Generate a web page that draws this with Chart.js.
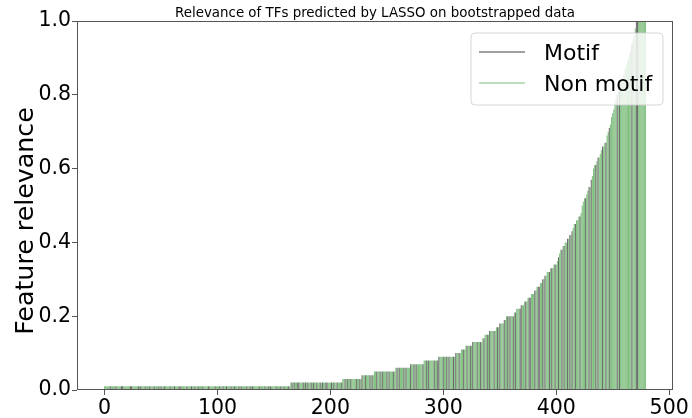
<!DOCTYPE html>
<html><head><meta charset="utf-8">
<script src="https://cdn.jsdelivr.net/npm/chart.js@4.4.1/dist/chart.umd.min.js"></script>
<style>html,body{margin:0;padding:0;background:#fff;}#wrap{width:692px;height:418px;position:relative;}</style>
</head><body><div id="wrap"><canvas id="c" width="692" height="418"></canvas></div>
<script>
// ---- data ----
const titleText = 'Relevance of TFs predicted by LASSO on bootstrapped data';
const yTitle = 'Feature relevance';
const seriesNames = ['Motif', 'Non motif'];
const xTicks = [0, 100, 200, 300, 400, 500];
const yTicks = [0.0, 0.2, 0.4, 0.6, 0.8, 1.0];

// sorted relevance values, run-length encoded (value, number of consecutive bars)
const relevanceLevels = [
  0.01, 0.02, 0.03, 0.04, 0.05, 0.06, 0.07, 0.08, 0.09, 0.10,
  0.11, 0.12, 0.13, 0.14, 0.15, 0.16, 0.17, 0.18, 0.19, 0.20,
  0.21, 0.22, 0.23, 0.24, 0.25, 0.26, 0.27, 0.28, 0.29, 0.30,
  0.31, 0.32, 0.33, 0.34, 0.35,
  0.36, 0.37, 0.38, 0.39, 0.40, 0.41, 0.42, 0.43, 0.44, 0.45,
  0.46, 0.47, 0.48, 0.50, 0.51, 0.52, 0.53, 0.54, 0.55, 0.57,
  0.58, 0.60, 0.61, 0.62, 0.63, 0.64, 0.65, 0.66, 0.67, 0.69,
  0.70, 0.71, 0.72, 0.74, 0.75, 0.76, 0.78, 0.79, 0.80, 0.81,
  0.82, 0.83, 0.84, 0.85, 0.86, 0.87, 0.88, 0.89, 0.90, 0.91,
  0.92, 0.94, 0.95, 0.96, 0.98, 1.00
];
const relevanceCounts = [
  165, 46, 17, 11, 19, 13, 12, 13, 15, 5,
  4, 6, 9, 2, 4, 6, 3, 4, 2, 7,
  2, 4, 3, 3, 3, 3, 2, 3, 2, 2,
  2, 3, 3, 3, 1,
  1, 1, 2, 2, 2, 2, 2, 1, 1, 2,
  2, 2, 1, 1, 1, 2, 1, 1, 2, 1,
  1, 1, 2, 1, 2, 1, 1, 2, 2, 1,
  1, 1, 1, 1, 1, 1, 1, 1, 1, 1,
  1, 1, 1, 1, 1, 1, 1, 1, 1, 1,
  1, 1, 1, 1, 1, 9
];
// one flag per bar in the same order: M = motif TF, N = non motif TF
const motifFlags =
  'NNNNNMNNNNMNNNNMMNNN' + 'NNNMMNNNNNMNMNNNMNNN' + 'MNNNMNNNMNMNNMNNNNMN' +
  'NNMNNNMMNNNNNMNNNMNN' + 'MNNMNNNMNNNNMNNNNNMN' + 'NNMNNMNNMNNNMNNMNNNM' +
  'NMNNNNMNNMNMNNNNNMNN' + 'NNMNNMNMNNNNMNNNMNNM' + 'NNNMNNMNMNNMMNNNMNMN' +
  'MNNMNMNNMNNMNMNNMMNN' + 'NMNMNNMNNNMNNMNMNNMN' + 'NNNMNNMNMNNMNNNMNMNN' +
  'NMNNMNMNNNMNMNNNMNNM' + 'NMNNNMNMNNNMNNMNMNNN' + 'NNMNNMNMNNNNMNNMMNNN' +
  'MNNMNMNNNMNMNNMNNNMN' + 'NMNNMNMNNNMNNMNNMNNM' + 'NMNNNMNNMNMNNNMNNMNM' +
  'NNMNMNNNMMNNNMNNMMNN' + 'NMNNMMNNMNMNNNMNMNNM' + 'NNMNNMNMNNMNMNMNNMNN' +
  'NMNNNNMNNMNMNNNMNMNN' + 'NMNNMNNMNNNNNNMNMNNN' + 'NNNNNNNMNNNMMNNNNNNN';

// ---- build per-bar data ----
const values = [];
relevanceLevels.forEach((lv, k) => { for (let j = 0; j < relevanceCounts[k]; j++) values.push(lv); });
const motifData = [], nonMotifData = [];
values.forEach((v, i) => {
  (motifFlags[i] === 'M' ? motifData : nonMotifData).push({ x: i, y: v });
});

const FONT = 'DejaVu Sans';
const AXIS_COLOR = '#555';
const motifColor = 'rgba(0,0,0,0.58)';
const nonMotifColor = 'rgba(0,128,0,0.5)';
const legendColors = ['rgba(0,0,0,0.5)', 'rgba(0,128,0,0.35)'];

const framePlugin = {
  id: 'frame',
  afterDatasetsDraw(chart) {
    const { ctx, chartArea: a } = chart;
    ctx.save();
    ctx.strokeStyle = AXIS_COLOR;
    ctx.lineWidth = 1;
    ctx.strokeRect(Math.round(a.left) + 0.5, Math.round(a.top) + 0.5,
      Math.round(a.right - a.left) - 1, Math.round(a.bottom - a.top) - 1);
    ctx.restore();
  }
};

// y-axis label, placed where the reference has it
const yLabelPlugin = {
  id: 'yLabel',
  afterDraw(chart) {
    const { ctx } = chart;
    ctx.save();
    ctx.translate(33, 221);
    ctx.rotate(-Math.PI / 2);
    ctx.font = '25.3px "' + FONT + '"';
    ctx.fillStyle = '#000';
    ctx.textAlign = 'center';
    ctx.textBaseline = 'alphabetic';
    ctx.fillText(yTitle, 0, 0);
    ctx.restore();
  }
};

const innerLegend = {
  id: 'innerLegend',
  afterDraw(chart) {
    const { ctx } = chart;
    const bx = 471, by = 33, bw = 192, bh = 72, r = 4;
    ctx.save();
    ctx.beginPath();
    ctx.moveTo(bx + r, by);
    ctx.arcTo(bx + bw, by, bx + bw, by + bh, r);
    ctx.arcTo(bx + bw, by + bh, bx, by + bh, r);
    ctx.arcTo(bx, by + bh, bx, by, r);
    ctx.arcTo(bx, by, bx + bw, by, r);
    ctx.closePath();
    ctx.fillStyle = 'rgba(255,255,255,0.8)';
    ctx.fill();
    ctx.strokeStyle = 'rgba(204,204,204,0.8)';
    ctx.lineWidth = 1;
    ctx.stroke();
    const rows = [52, 83];
    chart.data.datasets.forEach((ds, i) => {
      const y = rows[i];
      ctx.beginPath();
      ctx.moveTo(479, y); ctx.lineTo(525, y);
      ctx.strokeStyle = legendColors[i];
      ctx.lineWidth = 1.5;
      ctx.stroke();
      ctx.fillStyle = '#000';
      ctx.font = '22px "' + FONT + '"';
      ctx.textBaseline = 'alphabetic';
      ctx.textAlign = 'left';
      ctx.fillText(ds.label, 544, y + 8);
    });
    ctx.restore();
  }
};

const barOpts = { grouped: false, barPercentage: 0.9, categoryPercentage: 1.0, borderWidth: 0 };

new Chart(document.getElementById('c'), {
  type: 'bar',
  data: {
    datasets: [
      Object.assign({ label: seriesNames[0], data: motifData, backgroundColor: motifColor }, barOpts),
      Object.assign({ label: seriesNames[1], data: nonMotifData, backgroundColor: nonMotifColor }, barOpts)
    ]
  },
  options: {
    responsive: false,
    animation: false,
    events: [],
    layout: { padding: { left: 0, right: 19, top: 0, bottom: 0 } },
    plugins: {
      legend: { display: false },
      tooltip: { enabled: false },
      title: {
        display: true, text: titleText, color: '#000', fullSize: false,
        font: { family: FONT, size: 13.4, weight: 'normal', lineHeight: 1.2 },
        padding: { top: 5, bottom: 0 }
      }
    },
    scales: {
      x: {
        type: 'linear', min: -24.4, max: 503.4, offset: false,
        grid: { display: true, offset: false, drawOnChartArea: false, drawTicks: true, tickLength: 5, color: AXIS_COLOR },
        border: { display: false },
        ticks: { autoSkip: false, maxRotation: 0, padding: 1, color: '#000',
          font: { family: FONT, size: 20.5 }, callback: v => String(v) },
        afterBuildTicks: s => { s.ticks = xTicks.map(v => ({ value: v })); },
        afterFit: s => { s.height = 28; }
      },
      y: {
        min: 0, max: 1,
        grid: { display: true, offset: false, drawOnChartArea: false, drawTicks: true, tickLength: 5, color: AXIS_COLOR },
        border: { display: false },
        ticks: { padding: 1, color: '#000', font: { family: FONT, size: 20.5 },
          callback: v => Number(v).toFixed(1) },
        afterBuildTicks: s => { s.ticks = yTicks.map(v => ({ value: v })); },
        afterFit: s => { s.width = 77; }
      }
    }
  },
  plugins: [framePlugin, yLabelPlugin, innerLegend]
});
</script>
</body></html>
